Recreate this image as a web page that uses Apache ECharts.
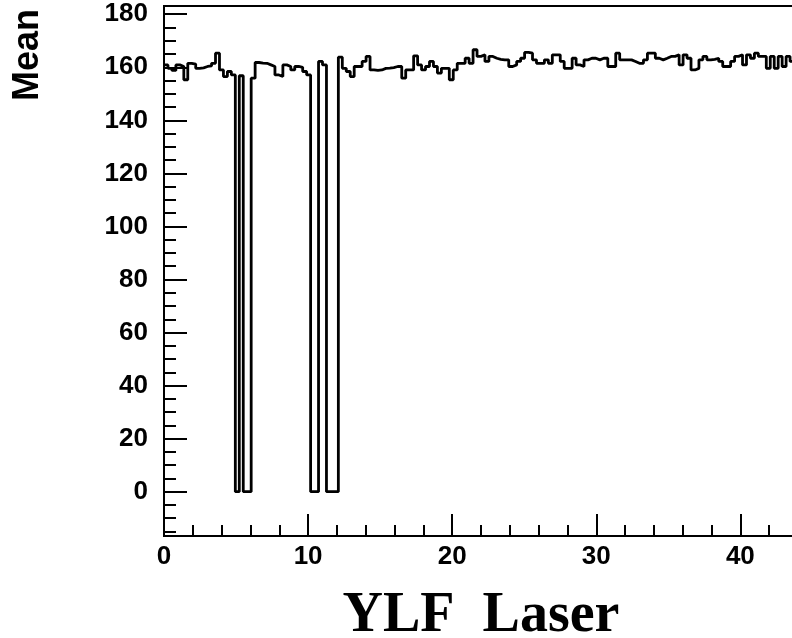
<!DOCTYPE html>
<html>
<head>
<meta charset="utf-8">
<script src="https://cdn.jsdelivr.net/npm/echarts@6/dist/echarts.min.js"></script>
<style>
html,body{margin:0;padding:0;background:#fff;}
#chart{width:792px;height:638px;}
</style>
</head>
<body>
<div id="chart"></div>
<script>
// Histogram binning
const binStart = 0;
const binWidth = 0.275;
// Mean value per bin
const meanValues = [
  160.9,159.6,158.8,160.9,160.3,155.3,161.5,161.2,159.6,159.8,
  160.3,160.5,161.5,165.3,159.0,156.5,158.4,157.1,0,156.8,
  0,0,155.9,161.8,161.6,161.5,160.9,160.3,157.1,156.5,
  160.9,160.3,159.0,160.3,160.0,158.4,157.1,0,0,162.2,
  160.9,0,0,0,163.8,159.6,158.4,156.5,160.3,160.3,
  162.2,164.1,159.0,158.8,159.0,159.6,159.7,159.9,160.3,160.3,
  155.9,159.0,159.0,164.3,160.9,159.0,160.3,162.2,160.3,157.8,
  159.6,159.6,155.3,159.0,161.5,161.5,163.4,161.5,166.6,164.1,
  164.7,162.2,164.1,163.4,163.0,162.8,162.8,160.3,160.9,162.2,
  163.4,165.6,165.3,162.8,161.5,161.5,162.8,161.5,164.7,164.7,
  162.2,159.6,159.6,163.4,160.9,160.3,162.8,163.4,163.4,162.8,
  163.4,163.4,160.3,160.3,165.3,162.8,162.8,162.8,162.2,161.5,
  161.5,162.8,165.3,165.3,163.4,162.8,163.4,164.1,164.1,164.7,
  160.9,164.7,163.4,159.0,159.6,162.8,164.1,162.8,163.0,163.4,
  162.2,160.3,160.3,162.2,164.1,164.7,160.9,164.7,163.4,165.3,
  164.1,164.1,159.6,164.1,159.6,164.1,160.3,164.1,162.2,162.2
];
// Axis ticks / labels
const xMajorTicks = [0, 10, 20, 30, 40];
const xMinorTicks = [2,4,6,8,12,14,16,18,22,24,26,28,32,34,36,38,42];
const yMajorTicks = [0, 20, 40, 60, 80, 100, 120, 140, 160, 180];
const yMinorTicks = [-15,-10,-5,5,10,15,25,30,35,45,50,55,65,70,75,85,90,95,105,110,115,125,130,135,145,150,155,165,170,175];
const xTitle = 'YLF  Laser';
const yTitle = 'Mean';

// build step points (left edges + final right edge)
const stepData = meanValues.map((v, i) => [binStart + i * binWidth, v]);
stepData.push([binStart + meanValues.length * binWidth, meanValues[meanValues.length - 1]]);

const labelFont = { fontFamily: 'Liberation Sans, Arial, sans-serif', fontWeight: 'bold', fontSize: 26, color: '#000' };

const chart = echarts.init(document.getElementById('chart'), null, { renderer: 'canvas' });
chart.setOption({
  animation: false,
  backgroundColor: '#fff',
  grid: {
    left: 164, top: 6, right: -6, bottom: 102,
    show: true, borderColor: '#000', borderWidth: 2, backgroundColor: 'transparent',
    outerBoundsMode: 'none', containLabel: false
  },
  xAxis: [
    {
      type: 'value', min: 0, max: 44, position: 'bottom',
      name: xTitle, nameLocation: 'middle', nameGap: 53,
      nameTextStyle: { fontFamily: 'Liberation Serif, Times New Roman, serif', fontWeight: 'bold', fontSize: 56, color: '#000' },
      axisLine: { show: true, onZero: false, lineStyle: { color: '#000', width: 2 } },
      axisTick: { show: true, inside: true, length: 22, customValues: xMajorTicks, lineStyle: { color: '#000', width: 2 } },
      axisLabel: Object.assign({ show: true, margin: 8, customValues: xMajorTicks }, labelFont),
      splitLine: { show: false }
    },
    {
      type: 'value', min: 0, max: 44, position: 'bottom',
      axisLine: { show: false, onZero: false },
      axisTick: { show: true, inside: true, length: 11, customValues: xMinorTicks, lineStyle: { color: '#000', width: 2 } },
      axisLabel: { show: false },
      splitLine: { show: false }
    }
  ],
  yAxis: [
    {
      type: 'value', min: -16.7, max: 183.1, position: 'left',
      axisLine: { show: true, onZero: false, lineStyle: { color: '#000', width: 2 } },
      axisTick: { show: true, inside: true, length: 23, customValues: yMajorTicks, lineStyle: { color: '#000', width: 2 } },
      axisLabel: Object.assign({ show: true, margin: 16, customValues: yMajorTicks }, labelFont),
      splitLine: { show: false }
    },
    {
      type: 'value', min: -16.7, max: 183.1, position: 'left',
      axisLine: { show: false, onZero: false },
      axisTick: { show: true, inside: true, length: 12, customValues: yMinorTicks, lineStyle: { color: '#000', width: 2 } },
      axisLabel: { show: false },
      splitLine: { show: false }
    }
  ],
  graphic: [
    {
      type: 'text', x: 28, y: 55, rotation: Math.PI / 2,
      style: { text: yTitle, fontFamily: 'Liberation Sans, Arial, sans-serif', fontWeight: 'bold', fontSize: 36, fill: '#000', align: 'center', verticalAlign: 'middle' }
    }
  ],
  series: [
    {
      type: 'line', xAxisIndex: 0, yAxisIndex: 0, step: 'end',
      showSymbol: false, symbol: 'none',
      lineStyle: { color: '#000', width: 2.8 },
      data: stepData,
      clip: true
    }
  ]
});
</script>
</body>
</html>
